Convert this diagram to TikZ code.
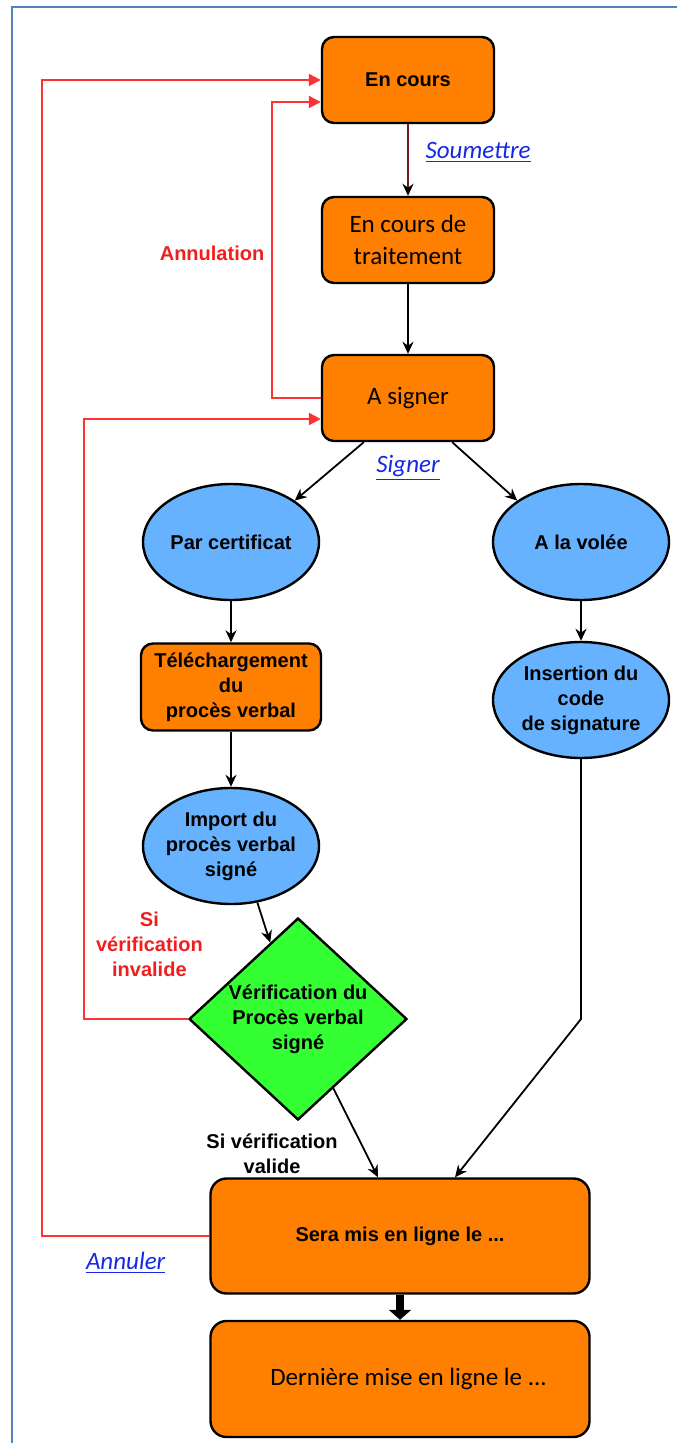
\documentclass[tikz,border=0pt]{standalone}
\usepackage{fontspec}
\newfontfamily\arialf{Liberation Sans}
\newfontfamily\calibrif{Carlito}
\usetikzlibrary{arrows.meta,positioning,shapes.geometric}
\definecolor{orangeetat}{RGB}{255,128,0}
\definecolor{bleuetat}{RGB}{102,178,255}
\definecolor{vertverif}{RGB}{51,255,51}
\definecolor{rougeligne}{RGB}{255,50,50}
\definecolor{rougetexte}{RGB}{240,30,30}
\definecolor{bleulien}{RGB}{20,40,230}
\definecolor{brunsoumis}{RGB}{110,30,35}
\definecolor{cadrebleu}{RGB}{79,129,189}

\begin{document}
\begin{tikzpicture}[->,>={Stealth[length=6pt,width=5.5pt]},x=1pt,y=1pt,on grid,
                    line width=0.9pt]
  \tikzstyle{etat}=[draw=black,fill=orangeetat,rounded corners=6pt,line width=1.2pt,
                    minimum width=86pt,minimum height=43pt,align=center]
  \tikzstyle{modesig}=[ellipse,draw=black,fill=bleuetat,line width=1.2pt,minimum width=88pt,
                    minimum height=58pt,inner xsep=-2pt,inner ysep=1pt,align=center]
  \tikzstyle{gras}=[font=\arialf\bfseries\fontsize{10}{12.5}\selectfont]
  \tikzstyle{cali}=[font=\calibrif\fontsize{12.5}{16}\selectfont]
  \tikzstyle{lien}=[text=bleulien,font=\calibrif\itshape\fontsize{12.5}{15}\selectfont]
  \tikzstyle{rouge}=[draw=rougeligne,line width=1.1pt,>={Triangle[length=6pt,width=6pt]}]

  \useasboundingbox (0,0) rectangle (338.5,-721.5);
  \draw[-,cadrebleu,line width=0.8pt] (6,-721.5) |- (338.5,-3.5);

  \node[etat,gras]		(encours)	at (204,-40)		{En cours};
  \node[etat,cali]		(traitement)	[below=80pt of encours]	{En cours de\\traitement};
  \node[etat,cali]		(asigner)	[below=79pt of traitement]	{A signer};
  \node[lien]		(signer)	[below=35pt of asigner]	{\underline{Signer}};
  \node[modesig,gras]	(parcert)	[below left=72pt and 88.5pt of asigner]	{Par certificat};
  \node[modesig,gras]	(volee)	[below right=72pt and 86.5pt of asigner]	{A la volée};
  \node[etat,gras,minimum width=90pt,minimum height=43.5pt]	(telech)	[below=72.5pt of parcert]	{Téléchargement\\du\\procès verbal};
  \node[modesig,gras]	(import)	[below=79.5pt of telech]	{Import du\\procès verbal\\signé};
  \node[modesig,gras]	(insertion)	[below=79pt of volee]	{Insertion du\\code\\de signature};
  \node[diamond,aspect=1.08,draw,fill=vertverif,line width=1.2pt,inner sep=0pt,minimum width=109pt,
        minimum height=101pt,align=center,gras]	(verif)	[below right=86.5pt and 33.5pt of import]	{Vérification du\\Procès verbal\\signé};
  \node[etat,gras,rounded corners=8pt,minimum width=189.5pt,minimum height=57.5pt]	(sera)	at (200,-618)	{Sera mis en ligne le ...};
  \node[etat,cali,rounded corners=8pt,minimum width=189.5pt,minimum height=58pt]	(derniere)	[below=71.5pt of sera]	{\hspace*{8.5pt}Dernière mise en ligne le ...};

  \coordinate (colA) at (42,0);
  \coordinate (colB) at (21,0);
  \coordinate (colC) at (136,-126.5);

  \draw[draw=brunsoumis,-{Stealth[length=6pt,width=5.5pt,color=black]}] (encours) -- node[lien,right=5pt,pos=0.4] (soumettre) {\underline{Soumettre}} (traitement);
  \draw (traitement) -- (asigner);
  \draw (asigner.-135) -- (parcert.33);
  \draw (asigner.-45) -- (volee.147);
  \draw (parcert) -- (telech);
  \draw (telech) -- (import);
  \draw (volee) -- (insertion);
  \draw (import.-65) -- (verif.110);
  \draw (verif.-63) -- node[gras,left=10.6pt,pos=0.74,align=center] (valide) {Si vérification\\valide} ([xshift=-11pt]sera.north);
  \draw (insertion) -- (insertion |- verif) -- ([xshift=27.5pt]sera.north);
  \draw[line width=4pt,-{Triangle[length=5pt,width=11pt]}] (sera) -- (derniere);

  % retours en rouge
  \draw[rouge] (asigner.west) -| (colC) node[gras,text=rougetexte,left] (annulation) {Annulation} |- ([yshift=-11pt]encours.west);
  \draw[rouge] (verif.west) -- node[gras,text=rougetexte,above=17.5pt,pos=0.37,align=center] (invalide) {Si\\vérification\\invalide} (verif.west -| colA) |- ([yshift=-10.5pt]asigner.west);
  \draw[rouge] (sera.west) -- node[lien,below=4pt] (annuler) {\underline{Annuler}} (sera.west -| colB) |- (encours.west);
\end{tikzpicture}
\end{document}
